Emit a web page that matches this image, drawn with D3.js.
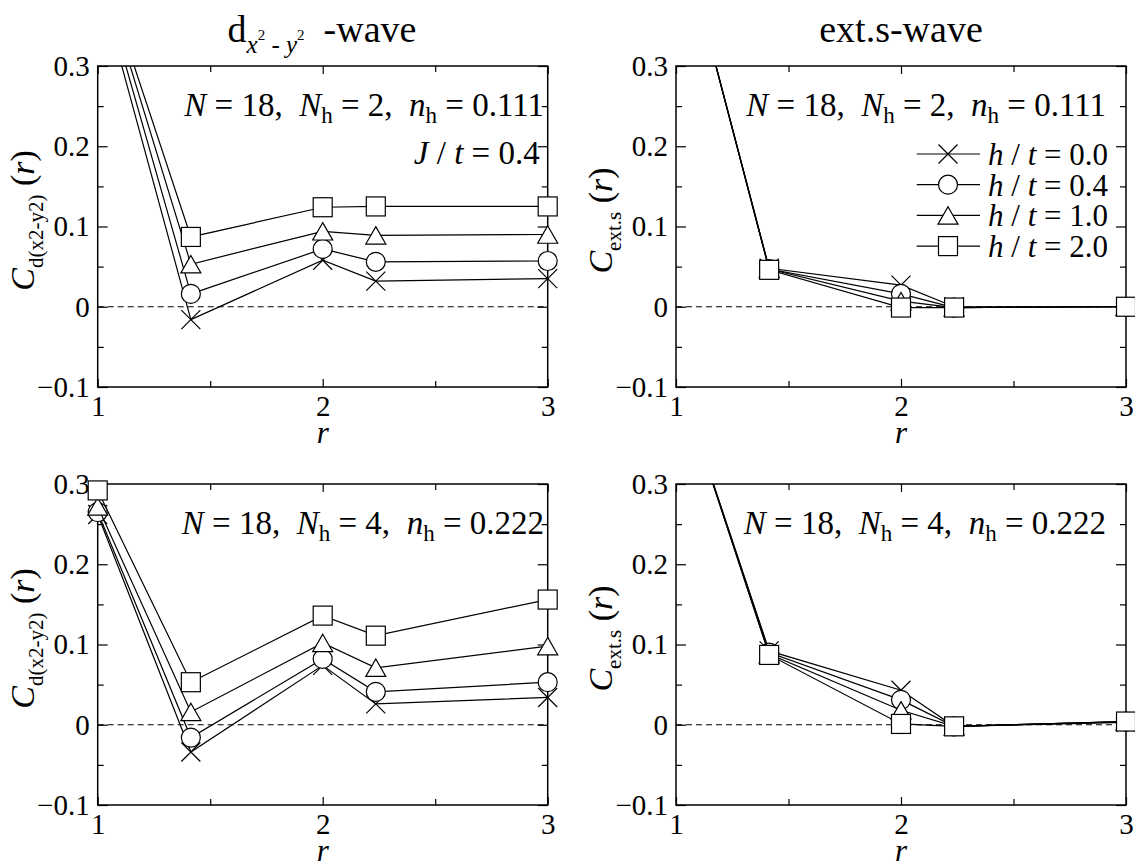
<!DOCTYPE html>
<html>
<head>
<meta charset="utf-8">
<script src="https://cdn.jsdelivr.net/npm/d3@7"></script>
<style>
  html, body { margin: 0; padding: 0; background: #fff; }
  svg { display: block; }
  svg text { font-family: "Liberation Serif", "Times New Roman", Times, "DejaVu Serif", serif; }
</style>
</head>
<body>
<script>
// ---------------- data ----------------
const rValues = [1, 1.414, 2, 2.236, 3];
const hLabels = ["0.0", "0.4", "1.0", "2.0"];
const markerTypes = ["cross", "circle", "triangle", "square"];
const yTickValues = [-0.1, 0, 0.1, 0.2, 0.3];
const yMinorValues = [-0.05, 0.05, 0.15, 0.25];
const xTickValues = [1, 2, 3];
const xMinorValues = [1.5, 2.5];

// d_{x2-y2}-wave, N_h = 2  (rows: h/t = 0.0, 0.4, 1.0, 2.0)
const dWaveNh2 = [
  [0.410, -0.016, 0.058, 0.032, 0.035],
  [0.423, 0.016, 0.072, 0.056, 0.057],
  [0.432, 0.053, 0.094, 0.089, 0.090],
  [0.437, 0.087, 0.124, 0.125, 0.125]
];
// ext.s-wave, N_h = 2
const extSNh2 = [
  [0.490, 0.048, 0.027, 0.000, 0.000],
  [0.490, 0.047, 0.016, -0.001, 0.000],
  [0.490, 0.047, 0.007, -0.001, 0.000],
  [0.490, 0.046, -0.001, -0.001, 0.000]
];
// d_{x2-y2}-wave, N_h = 4
const dWaveNh4 = [
  [0.262, -0.034, 0.074, 0.026, 0.034],
  [0.265, -0.016, 0.082, 0.041, 0.053],
  [0.272, 0.016, 0.102, 0.071, 0.098],
  [0.292, 0.053, 0.136, 0.111, 0.156]
];
// ext.s-wave, N_h = 4
const extSNh4 = [
  [0.440, 0.092, 0.043, -0.002, 0.003],
  [0.440, 0.090, 0.031, -0.002, 0.004],
  [0.440, 0.088, 0.018, -0.002, 0.004],
  [0.440, 0.087, 0.001, -0.002, 0.004]
];

// ---------------- drawing ----------------
const W = 1135, H = 863;
const FONT = '"Liberation Serif", "Times New Roman", Times, "DejaVu Serif", serif';
const svg = d3.select("body").append("svg").attr("width", W).attr("height", H)
  .attr("font-family", FONT);
svg.append("rect").attr("width", W).attr("height", H).attr("fill", "#fff");
const defs = svg.append("defs");

const PW = 450, PH = 321;
const panels = [
  {id: "tl", x0: 97.7, y0: 66, data: dWaveNh2, kind: "d", nh: "2", nhv: "0.111", annEnd: 544},
  {id: "tr", x0: 676, y0: 66, data: extSNh2, kind: "s", nh: "2", nhv: "0.111", annEnd: 1106},
  {id: "bl", x0: 97.7, y0: 484, data: dWaveNh4, kind: "d", nh: "4", nhv: "0.222", annEnd: 544},
  {id: "br", x0: 676, y0: 484, data: extSNh4, kind: "s", nh: "4", nhv: "0.222", annEnd: 1106}
];

function drawMarker(g, type, cx, cy) {
  const s = 9.5;
  if (type === "cross") {
    g.append("path").attr("d", `M${cx - s},${cy - s}L${cx + s},${cy + s}M${cx - s},${cy + s}L${cx + s},${cy - s}`)
      .attr("stroke", "#000").attr("stroke-width", 1.2).attr("fill", "none");
  } else if (type === "circle") {
    g.append("circle").attr("cx", cx).attr("cy", cy).attr("r", s)
      .attr("fill", "#fff").attr("stroke", "#000").attr("stroke-width", 1.2);
  } else if (type === "triangle") {
    const hh = 8.7;
    g.append("path").attr("d", `M${cx},${cy - hh}L${cx + 10},${cy + hh}L${cx - 10},${cy + hh}Z`)
      .attr("fill", "#fff").attr("stroke", "#000").attr("stroke-width", 1.2);
  } else {
    g.append("rect").attr("x", cx - s).attr("y", cy - s).attr("width", 2 * s).attr("height", 2 * s)
      .attr("fill", "#fff").attr("stroke", "#000").attr("stroke-width", 1.2);
  }
}

function styleAxis(g, size) {
  g.select(".domain").remove();
  g.attr("font-family", FONT).attr("font-size", size);
  g.selectAll("line").attr("stroke", "#000").attr("stroke-width", 1.2);
  g.selectAll("text").attr("fill", "#000");
}

const fmtY = v => (Math.abs(v) < 1e-9 ? "0" : d3.format(".1f")(v));

panels.forEach(p => {
  const g = svg.append("g");
  const x = d3.scaleLinear().domain([1, 3]).range([p.x0, p.x0 + PW]);
  const y = d3.scaleLinear().domain([-0.1, 0.3]).range([p.y0 + PH, p.y0]);

  defs.append("clipPath").attr("id", "clip-" + p.id).append("rect")
    .attr("x", p.x0).attr("y", p.y0).attr("width", PW).attr("height", PH);

  g.append("line").attr("x1", x(1)).attr("x2", x(3)).attr("y1", y(0)).attr("y2", y(0))
    .attr("stroke", "#000").attr("stroke-width", 1).attr("stroke-dasharray", "6,4");

  g.append("g").attr("transform", `translate(${p.x0},0)`)
    .call(d3.axisLeft(y).tickValues(yTickValues).tickSize(-10).tickPadding(8).tickFormat(fmtY))
    .call(a => styleAxis(a, 29));
  g.append("g").attr("transform", `translate(${p.x0},0)`)
    .call(d3.axisLeft(y).tickValues(yMinorValues).tickSize(-6).tickFormat(""))
    .call(a => styleAxis(a, 29));
  g.append("g").attr("transform", `translate(${p.x0 + PW},0)`)
    .call(d3.axisRight(y).tickValues(yTickValues).tickSize(-10).tickFormat(""))
    .call(a => styleAxis(a, 29));
  g.append("g").attr("transform", `translate(${p.x0 + PW},0)`)
    .call(d3.axisRight(y).tickValues(yMinorValues).tickSize(-6).tickFormat(""))
    .call(a => styleAxis(a, 29));
  g.append("g").attr("transform", `translate(0,${p.y0 + PH})`)
    .call(d3.axisBottom(x).tickValues(xTickValues).tickSize(-8).tickPadding(8).tickFormat(d3.format("d")))
    .call(a => styleAxis(a, 29));
  g.append("g").attr("transform", `translate(0,${p.y0 + PH})`)
    .call(d3.axisBottom(x).tickValues(xMinorValues).tickSize(-6).tickFormat(""))
    .call(a => styleAxis(a, 29));
  g.append("g").attr("transform", `translate(0,${p.y0})`)
    .call(d3.axisTop(x).tickValues(xTickValues).tickSize(-8).tickFormat(""))
    .call(a => styleAxis(a, 29));
  g.append("g").attr("transform", `translate(0,${p.y0})`)
    .call(d3.axisTop(x).tickValues(xMinorValues).tickSize(-6).tickFormat(""))
    .call(a => styleAxis(a, 29));

  g.append("rect").attr("x", p.x0).attr("y", p.y0).attr("width", PW).attr("height", PH)
    .attr("fill", "none").attr("stroke", "#000").attr("stroke-width", 1.5);

  const line = d3.line().x((d, i) => x(rValues[i])).y(d => y(d));
  p.data.forEach((vals, si) => {
    g.append("path").datum(vals).attr("d", line)
      .attr("clip-path", `url(#clip-${p.id})`)
      .attr("fill", "none").attr("stroke", "#000").attr("stroke-width", 1.2);
    const mg = g.append("g");
    vals.forEach((v, i) => {
      if (v <= 0.3 && v >= -0.1) drawMarker(mg, markerTypes[si], x(rValues[i]), y(v));
    });
  });

  g.append("text").attr("x", p.x0 + PW / 2).attr("y", p.y0 + PH + 56)
    .attr("text-anchor", "middle").attr("font-size", 31)
    .attr("font-style", "italic").text("r");

  const yl = g.append("text")
    .attr("transform", `translate(${p.x0 - 64},${p.y0 + PH / 2 - 6}) rotate(-90)`)
    .attr("text-anchor", "middle").attr("font-size", 34);
  yl.append("tspan").attr("font-style", "italic").text("C");
  yl.append("tspan").attr("font-size", 21).attr("dy", 9).text(p.kind === "d" ? "d(x2-y2)" : "ext.s");
  yl.append("tspan").attr("dy", -9).text("\u00a0(");
  yl.append("tspan").attr("font-style", "italic").text("r");
  yl.append("tspan").text(")");

  const an = g.append("text").attr("x", p.annEnd).attr("y", p.y0 + 50)
    .attr("text-anchor", "end").attr("font-size", 33);
  an.append("tspan").attr("font-style", "italic").text("N");
  an.append("tspan").text(" = 18,\u00a0\u00a0");
  an.append("tspan").attr("font-style", "italic").text("N");
  an.append("tspan").attr("font-size", 23).attr("dy", 7).text("h");
  an.append("tspan").attr("dy", -7).text(" = " + p.nh + ",\u00a0\u00a0");
  an.append("tspan").attr("font-style", "italic").text("n");
  an.append("tspan").attr("font-size", 23).attr("dy", 7).text("h");
  an.append("tspan").attr("dy", -7).text(" = " + p.nhv);

  if (p.id === "tl") {
    const jt = g.append("text").attr("x", p.x0 + PW - 8).attr("y", p.y0 + 98)
      .attr("text-anchor", "end").attr("font-size", 33);
    jt.append("tspan").attr("font-style", "italic").text("J");
    jt.append("tspan").text(" / ");
    jt.append("tspan").attr("font-style", "italic").text("t");
    jt.append("tspan").text(" = 0.4");
  }

  if (p.id === "tr") {
    hLabels.forEach((lab, i) => {
      const ly = 154 + i * 30.7;
      g.append("line").attr("x1", 916.7).attr("x2", 980).attr("y1", ly).attr("y2", ly)
        .attr("stroke", "#000").attr("stroke-width", 1.2);
      drawMarker(g, markerTypes[i], 948, ly);
      const t = g.append("text").attr("x", 988).attr("y", ly).attr("dy", "0.35em")
        .attr("font-size", 31);
      t.append("tspan").attr("font-style", "italic").text("h");
      t.append("tspan").text(" / ");
      t.append("tspan").attr("font-style", "italic").text("t");
      t.append("tspan").text(" = " + lab);
    });
  }
});

const t1 = svg.append("text").attr("x", 322).attr("y", 42).attr("text-anchor", "middle")
  .attr("font-size", 38);
t1.append("tspan").text("d");
t1.append("tspan").attr("font-style", "italic").attr("font-size", 25).attr("dy", 11).text("x");
t1.append("tspan").attr("font-size", 15).attr("dy", -13).text("2");
t1.append("tspan").attr("font-size", 25).attr("dy", 13).text(" - ");
t1.append("tspan").attr("font-style", "italic").attr("font-size", 25).text("y");
t1.append("tspan").attr("font-size", 15).attr("dy", -13).text("2");
t1.append("tspan").attr("dy", 2).text("\u00a0 -wave");

svg.append("text").attr("x", 901).attr("y", 42).attr("text-anchor", "middle")
  .attr("font-size", 38).text("ext.s-wave");
</script>
</body>
</html>
